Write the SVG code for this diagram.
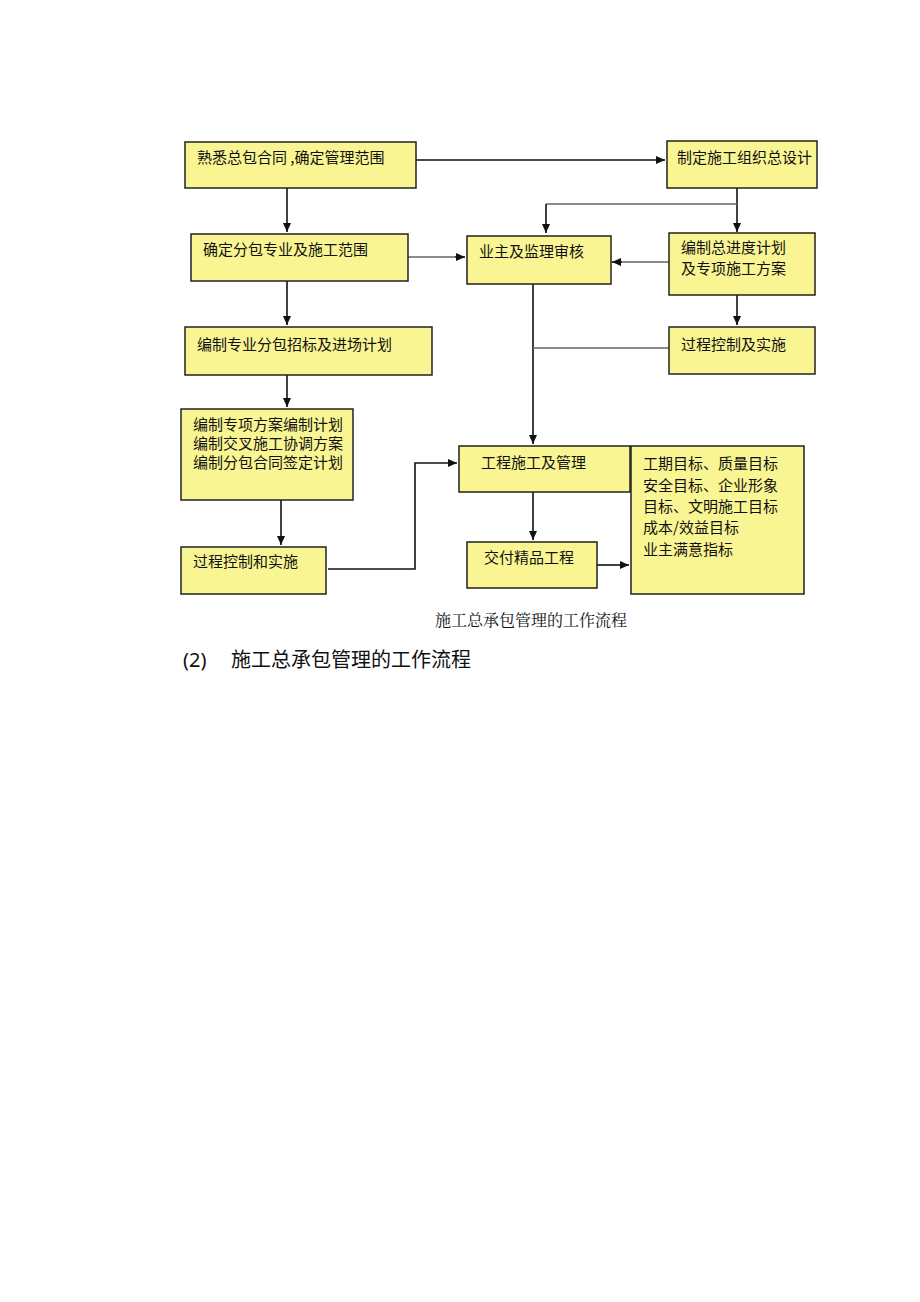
<svg xmlns="http://www.w3.org/2000/svg" width="920" height="1302" viewBox="0 0 920 1302">
<defs>
<style>
.b{fill:#f9f592;stroke:#222;stroke-width:1.5}
.t{font-family:"Noto Sans CJK SC","Noto Sans CJK TC",sans-serif;font-size:15px;fill:#111}
.c{fill:none;stroke:#111;stroke-width:1.6}
.g{fill:none;stroke:#666;stroke-width:1.3}
</style>
<marker id="ar" markerWidth="10" markerHeight="10" refX="9" refY="5" orient="auto" markerUnits="userSpaceOnUse"><path d="M0,1 L9,5 L0,9 Z" fill="#111"/></marker>
</defs>
<rect width="920" height="1302" fill="#fff"/>
<g id="connectors">
<path class="c" d="M416,160 H665" marker-end="url(#ar)"/>
<path class="c" d="M287,188 V232" marker-end="url(#ar)"/>
<path class="c" d="M737,188 V232" marker-end="url(#ar)"/>
<path class="g" d="M737,204 H546"/>
<path class="c" d="M546,204 V233" marker-end="url(#ar)"/>
<path class="g" d="M408,257 H455"/>
<path class="c" d="M455,257 H465" marker-end="url(#ar)"/>
<path class="g" d="M669,262 H622"/>
<path class="c" d="M622,262 H612" marker-end="url(#ar)"/>
<path class="c" d="M287,281 V325" marker-end="url(#ar)"/>
<path class="c" d="M737,295 V325" marker-end="url(#ar)"/>
<path class="c" d="M533,284 V444" marker-end="url(#ar)"/>
<path class="g" d="M533,348 H669"/>
<path class="c" d="M287,375 V407" marker-end="url(#ar)"/>
<path class="c" d="M281,500 V545" marker-end="url(#ar)"/>
<path class="c" d="M328,569 H415 V463 H457" marker-end="url(#ar)"/>
<path class="c" d="M533,492 V540" marker-end="url(#ar)"/>
<path class="c" d="M597,565 H629" marker-end="url(#ar)"/>
</g>
<g id="nA"><rect class="b" x="185" y="142" width="231" height="46"/><text class="t" x="197" y="163">熟悉总包合同 ,确定管理范围</text></g>
<g id="nB"><rect class="b" x="667" y="141" width="150" height="47"/><text class="t" x="677" y="163">制定施工组织总设计</text></g>
<g id="nC"><rect class="b" x="191" y="234" width="217" height="47"/><text class="t" x="203" y="255">确定分包专业及施工范围</text></g>
<g id="nD"><rect class="b" x="467" y="236" width="144" height="48"/><text class="t" x="479" y="257">业主及监理审核</text></g>
<g id="nE"><rect class="b" x="669" y="233" width="146" height="62"/><text class="t" x="681" y="253">编制总进度计划</text><text class="t" x="681" y="274">及专项施工方案</text></g>
<g id="nF"><rect class="b" x="185" y="327" width="247" height="48"/><text class="t" x="197" y="350">编制专业分包招标及进场计划</text></g>
<g id="nG"><rect class="b" x="669" y="327" width="146" height="47"/><text class="t" x="681" y="350">过程控制及实施</text></g>
<g id="nH"><rect class="b" x="181" y="409" width="172" height="91"/><text class="t" x="193" y="430">编制专项方案编制计划</text><text class="t" x="193" y="449">编制交叉施工协调方案</text><text class="t" x="193" y="468">编制分包合同签定计划</text></g>
<g id="nI"><rect class="b" x="181" y="547" width="145" height="47"/><text class="t" x="193" y="567">过程控制和实施</text></g>
<g id="nJ"><rect class="b" x="459" y="446" width="171" height="46"/><text class="t" x="481" y="468">工程施工及管理</text></g>
<g id="nK"><rect class="b" x="467" y="542" width="130" height="46"/><text class="t" x="484" y="563">交付精品工程</text></g>
<g id="nL"><rect class="b" x="631" y="446" width="173" height="148"/><text class="t" x="643" y="469">工期目标、质量目标</text><text class="t" x="643" y="491">安全目标、企业形象</text><text class="t" x="643" y="512">目标、文明施工目标</text><text class="t" x="643" y="533">成本/效益目标</text><text class="t" x="643" y="555">业主满意指标</text></g>
<text x="435" y="626" style="font-family:'Noto Serif CJK SC','Noto Sans CJK SC',serif;font-size:16px" fill="#111">施工总承包管理的工作流程</text>
<text x="183" y="667" style="font-family:'Noto Sans','Noto Sans CJK SC',sans-serif;font-size:20px" fill="#111">(2)</text>
<text x="231" y="667" style="font-family:'Noto Sans CJK SC',sans-serif;font-size:20px" fill="#111">施工总承包管理的工作流程</text>
</svg>
